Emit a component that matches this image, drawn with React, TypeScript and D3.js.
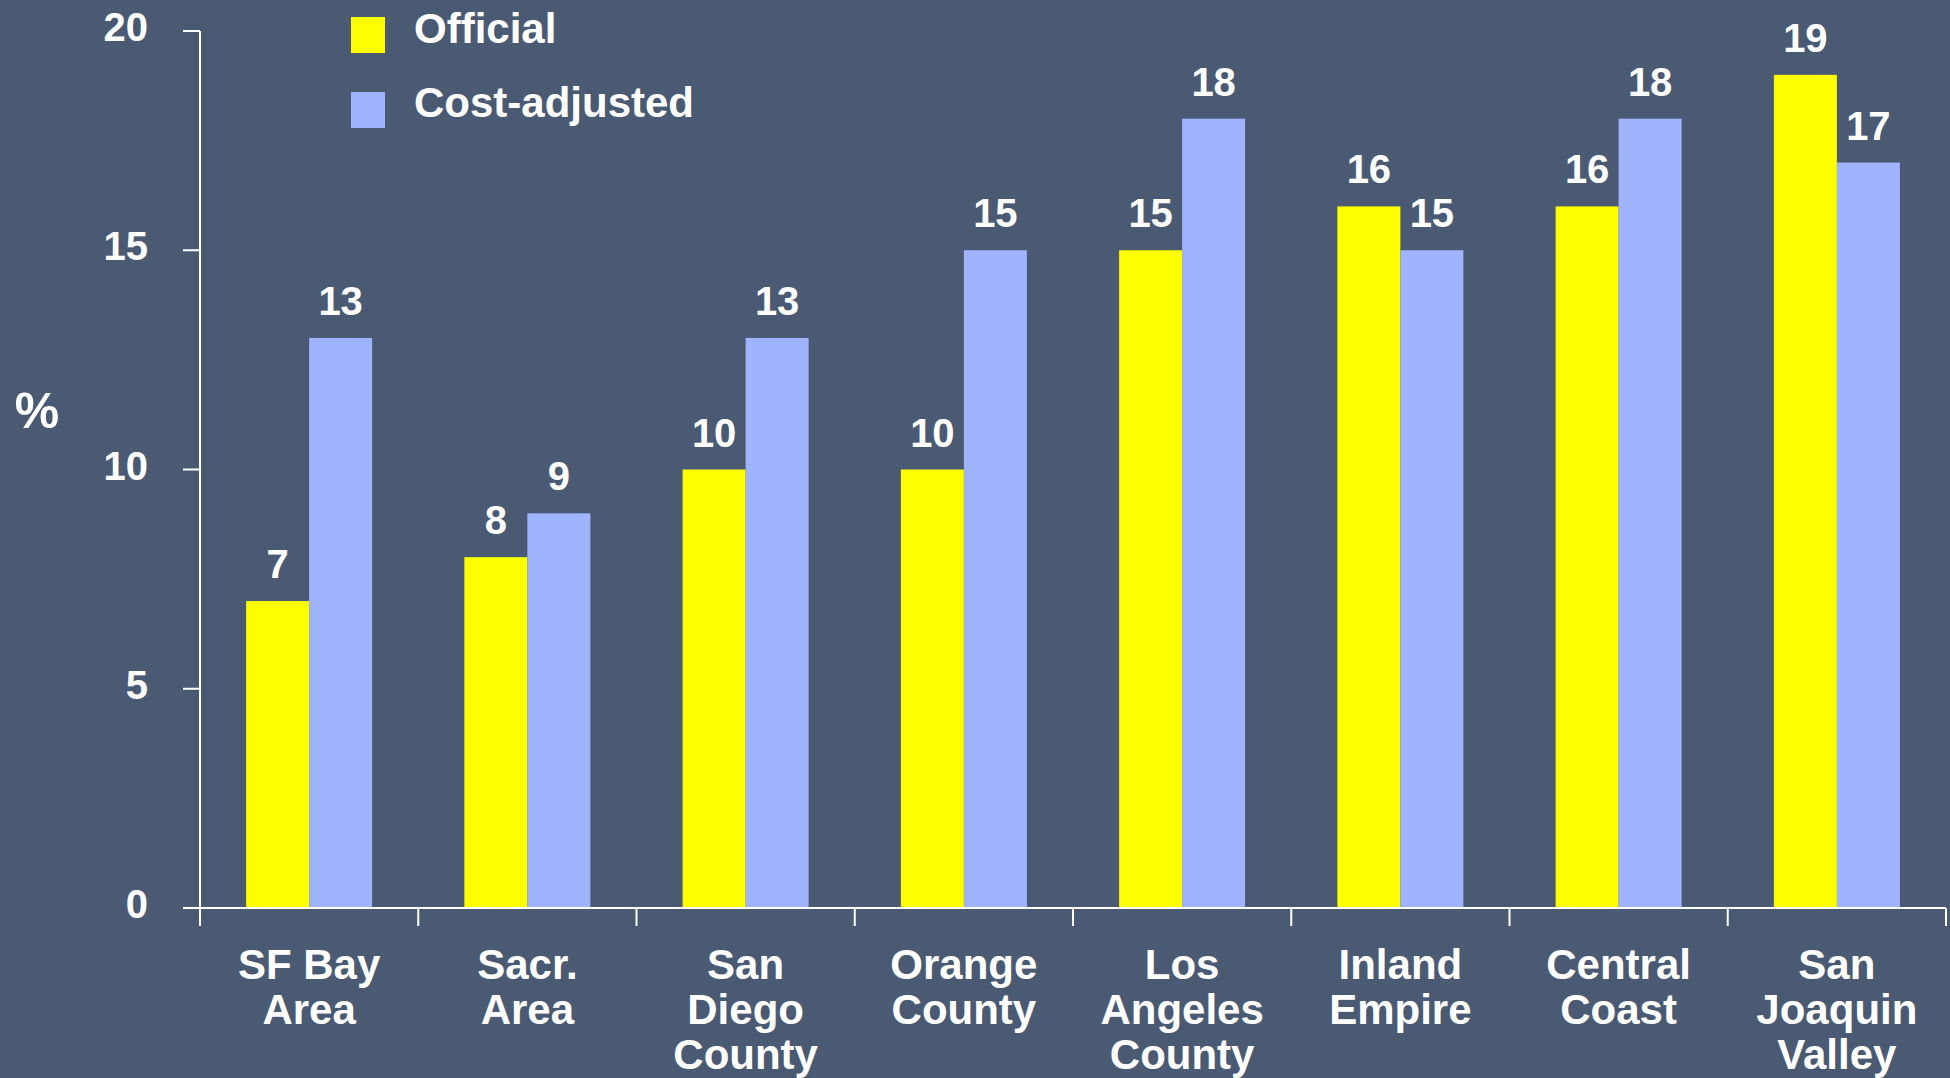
import React from "react";
import * as d3 from "d3";

const categories: string[][] = [
  ["SF Bay", "Area"],
  ["Sacr.", "Area"],
  ["San", "Diego", "County"],
  ["Orange", "County"],
  ["Los", "Angeles", "County"],
  ["Inland", "Empire"],
  ["Central", "Coast"],
  ["San", "Joaquin", "Valley"],
];
const official: number[] = [7, 8, 10, 10, 15, 16, 16, 19];
const costAdjusted: number[] = [13, 9, 13, 15, 18, 15, 18, 17];
const yTicks: number[] = [0, 5, 10, 15, 20];
const seriesNames: string[] = ["Official", "Cost-adjusted"];

const W = 1950;
const H = 1078;
const BG = "#4a5a73";
const YELLOW = "#ffff00";
const BLUE = "#a0b4fd";
const FONT = "'Liberation Sans', Arial, sans-serif";

export default function App() {
  const x0 = 200;
  const x1 = 1946;
  const yBottom = 908;
  const yTop = 31;
  const x = d3
    .scaleBand<number>()
    .domain(categories.map((_, i) => i))
    .range([x0, x1])
    .paddingInner(0)
    .paddingOuter(0);
  const y = d3.scaleLinear().domain([0, 20]).range([yBottom, yTop]);
  const bw = x.bandwidth();
  const barW = 63;
  const inner = d3
    .scaleBand<number>()
    .domain([0, 1])
    .range([bw / 2 - barW, bw / 2 + barW]);

  const series = [official, costAdjusted];
  const colors = [YELLOW, BLUE];
  const bandEdges = categories.map((_, i) => x(i)!).concat([x1]);

  return (
    <svg
      width={W}
      height={H}
      style={{ position: "absolute", left: 0, top: 0, display: "block" }}
      fontFamily={FONT}
      fontWeight="bold"
    >
      <rect x={0} y={0} width={W} height={H} fill={BG} />
      {/* bars */}
      {series.map((vals, s) =>
        vals.map((v, i) => (
          <rect
            key={`b${s}-${i}`}
            x={x(i)! + inner(s)!}
            y={y(v)}
            width={inner.bandwidth()}
            height={yBottom - y(v)}
            fill={colors[s]}
          />
        ))
      )}
      {/* value labels */}
      {series.map((vals, s) =>
        vals.map((v, i) => (
          <text
            key={`l${s}-${i}`}
            x={x(i)! + inner(s)! + inner.bandwidth() / 2}
            y={y(v) - 23}
            fill="#fff"
            fontSize={40}
            textAnchor="middle"
          >
            {v}
          </text>
        ))
      )}
      {/* y axis */}
      <line x1={x0} x2={x0} y1={yTop} y2={yBottom} stroke="#fff" strokeWidth={2} />
      {yTicks.map((t) => (
        <g key={`yt${t}`}>
          <line x1={x0 - 17} x2={x0} y1={y(t)} y2={y(t)} stroke="#fff" strokeWidth={2} />
          <text
            x={148}
            y={y(t) + 10}
            fill="#fff"
            fontSize={40}
            textAnchor="end"
          >
            {t}
          </text>
        </g>
      ))}
      {/* x axis */}
      <line x1={x0 - 17} x2={x1} y1={yBottom} y2={yBottom} stroke="#fff" strokeWidth={2} />
      {bandEdges.map((e, i) => (
        <line key={`xt${i}`} x1={e} x2={e} y1={yBottom} y2={yBottom + 18} stroke="#fff" strokeWidth={2} />
      ))}
      {categories.map((lines, i) => (
        <text
          key={`c${i}`}
          x={x(i)! + bw / 2}
          y={979}
          fill="#fff"
          fontSize={42}
          textAnchor="middle"
        >
          {lines.map((ln, k) => (
            <tspan key={k} x={x(i)! + bw / 2} dy={k === 0 ? 0 : 45}>
              {ln}
            </tspan>
          ))}
        </text>
      ))}
      {/* y label */}
      <text x={37} y={428} fill="#fff" fontSize={50} textAnchor="middle">
        %
      </text>
      {/* legend */}
      {seriesNames.map((n, s) => (
        <g key={`lg${s}`}>
          <rect x={351} y={17 + s * 75} width={34} height={36} fill={colors[s]} />
          <text x={414} y={43 + s * 74} fill="#fff" fontSize={42}>
            {n}
          </text>
        </g>
      ))}
    </svg>
  );
}
